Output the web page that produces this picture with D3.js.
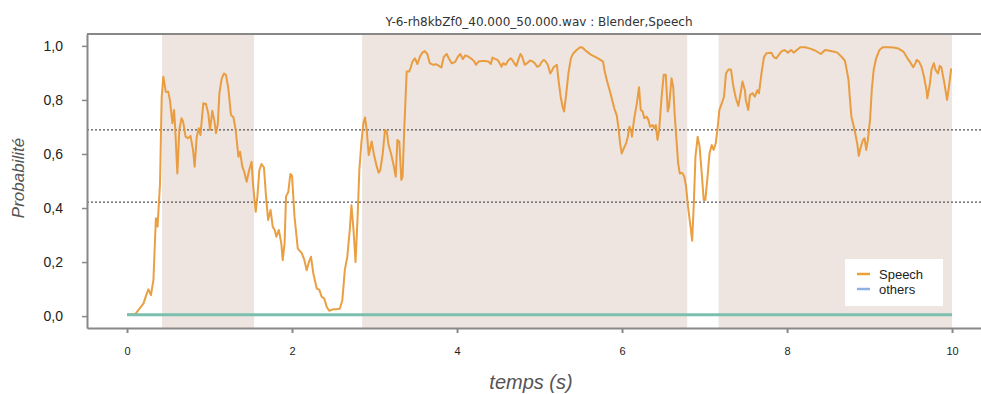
<!DOCTYPE html>
<html lang="en">
<head>
<meta charset="utf-8">
<title>Blender,Speech</title>
<script src="https://d3js.org/d3.v7.min.js"></script>
<style>
  body { margin: 0; background: #fff; }
  .axis path, .axis line { stroke: #888; }
  .axis text { fill: #222; font-family: "Liberation Sans", Arial, sans-serif; }
</style>
</head>
<body>
<svg width="981" height="394"></svg>
<script>

// ground-truth segments (seconds)
var segStart = [0.424, 2.85, 7.17];
var segEnd   = [1.54, 6.79, 10.0];

// thresholds
var thresholds = [0.689, 0.422];

// Speech probability
var speechTimes = [0.00,0.10,0.20,0.24,0.26,0.29,0.32,0.35,0.37,0.40,0.42,0.44,0.47,0.50,0.52,0.55,0.57,0.585,0.61,0.634,
  0.66,0.68,0.71,0.74,0.77,0.80,0.82,0.845,0.87,0.89,0.925,0.957,0.985,1.006,1.034,1.06,1.079,1.10,1.12,1.148,
  1.176,1.20,1.228,1.26,1.29,1.317,1.35,1.37,1.398,1.42,1.45,1.48,1.51,1.53,1.56,1.58,1.604,1.63,1.66,1.685,
  1.71,1.74,1.766,1.79,1.81,1.84,1.87,1.887,1.91,1.927,1.955,1.98,2.00,2.03,2.07,2.12,2.15,2.178,2.20,2.23,
  2.258,2.30,2.33,2.36,2.39,2.42,2.45,2.50,2.54,2.58,2.61,2.64,2.67,2.70,2.72,2.745,2.77,2.795,2.816,2.84,
  2.865,2.885,2.905,2.93,2.966,2.99,3.027,3.05,3.07,3.10,3.127,3.15,3.17,3.20,3.23,3.257,3.277,3.30,3.325,3.34,
  3.36,3.39,3.42,3.44,3.46,3.49,3.52,3.55,3.58,3.61,3.64,3.67,3.71,3.75,3.78,3.81,3.84,3.875,3.90,3.935,
  3.976,4.01,4.04,4.07,4.10,4.14,4.18,4.21,4.23,4.26,4.30,4.34,4.38,4.41,4.43,4.46,4.49,4.51,4.54,4.56,
  4.59,4.62,4.65,4.67,4.70,4.72,4.745,4.77,4.79,4.82,4.85,4.885,4.92,4.95,4.97,5.00,5.02,5.05,5.07,5.10,
  5.13,5.15,5.17,5.21,5.23,5.256,5.28,5.297,5.32,5.35,5.38,5.41,5.45,5.49,5.52,5.55,5.59,5.62,5.67,5.72,
  5.77,5.79,5.82,5.855,5.885,5.906,5.935,5.96,5.976,5.996,6.02,6.05,6.07,6.09,6.11,6.12,6.145,6.18,6.206,6.227,
  6.25,6.27,6.30,6.32,6.34,6.37,6.39,6.41,6.43,6.45,6.48,6.505,6.53,6.554,6.57,6.60,6.62,6.64,6.66,6.68,
  6.70,6.73,6.755,6.776,6.80,6.83,6.85,6.87,6.89,6.917,6.94,6.966,6.99,7.01,7.04,7.06,7.087,7.11,7.136,7.16,
  7.18,7.21,7.236,7.26,7.29,7.32,7.35,7.38,7.41,7.44,7.46,7.49,7.50,7.53,7.55,7.58,7.61,7.64,7.66,7.69,
  7.72,7.75,7.81,7.84,7.87,7.90,7.93,7.97,8.01,8.05,8.08,8.12,8.16,8.22,8.28,8.34,8.41,8.46,8.50,8.56,
  8.61,8.66,8.70,8.72,8.745,8.76,8.78,8.80,8.82,8.85,8.87,8.89,8.92,8.94,8.96,8.98,9.006,9.027,9.05,9.08,
  9.12,9.16,9.23,9.29,9.35,9.41,9.46,9.50,9.53,9.56,9.57,9.60,9.63,9.66,9.69,9.70,9.73,9.75,9.78,9.80,
  9.83,9.85,9.87,9.90,9.92,9.94,9.96,9.99];
var speechValues = [0.007,0.007,0.047,0.084,0.099,0.078,0.133,0.362,0.331,0.49,0.81,0.886,0.83,0.83,0.80,0.714,0.763,0.689,0.528,0.689,
  0.732,0.72,0.664,0.658,0.667,0.615,0.553,0.664,0.695,0.67,0.788,0.785,0.75,0.689,0.76,0.72,0.677,0.71,0.825,0.88,
  0.898,0.892,0.843,0.744,0.736,0.689,0.59,0.608,0.553,0.535,0.497,0.54,0.571,0.479,0.386,0.442,0.54,0.563,0.55,0.442,
  0.356,0.393,0.331,0.319,0.294,0.319,0.269,0.207,0.27,0.442,0.46,0.526,0.52,0.368,0.25,0.232,0.207,0.17,0.195,0.22,
  0.158,0.102,0.098,0.071,0.066,0.035,0.02,0.025,0.025,0.028,0.059,0.17,0.22,0.319,0.41,0.32,0.2,0.368,0.54,0.64,
  0.714,0.735,0.689,0.596,0.646,0.602,0.553,0.531,0.54,0.602,0.689,0.68,0.633,0.602,0.56,0.516,0.652,0.646,0.504,0.516,
  0.689,0.905,0.905,0.921,0.942,0.954,0.933,0.96,0.975,0.981,0.97,0.936,0.93,0.932,0.926,0.92,0.96,0.97,0.954,0.936,
  0.94,0.96,0.97,0.951,0.965,0.96,0.951,0.942,0.93,0.942,0.944,0.944,0.942,0.933,0.957,0.952,0.948,0.94,0.923,0.936,
  0.93,0.946,0.954,0.948,0.933,0.926,0.951,0.97,0.96,0.93,0.936,0.946,0.942,0.933,0.923,0.926,0.938,0.948,0.944,0.93,
  0.898,0.908,0.921,0.93,0.874,0.812,0.775,0.757,0.812,0.898,0.954,0.973,0.985,0.995,0.994,0.985,0.975,0.968,0.96,0.952,
  0.942,0.905,0.868,0.83,0.794,0.769,0.744,0.689,0.64,0.602,0.62,0.64,0.664,0.701,0.686,0.664,0.726,0.788,0.847,0.763,
  0.757,0.732,0.738,0.726,0.701,0.707,0.695,0.707,0.652,0.689,0.812,0.893,0.893,0.757,0.775,0.88,0.849,0.738,0.652,0.565,
  0.528,0.53,0.516,0.479,0.405,0.331,0.279,0.417,0.59,0.664,0.627,0.528,0.43,0.43,0.528,0.602,0.633,0.615,0.64,0.701,
  0.763,0.788,0.812,0.898,0.913,0.913,0.849,0.806,0.778,0.83,0.868,0.835,0.80,0.763,0.818,0.825,0.812,0.836,0.825,0.898,
  0.958,0.973,0.975,0.958,0.954,0.967,0.979,0.985,0.975,0.985,0.975,0.985,0.995,0.995,0.99,0.983,0.97,0.985,0.983,0.979,
  0.975,0.96,0.946,0.917,0.874,0.812,0.738,0.714,0.686,0.64,0.593,0.621,0.652,0.658,0.615,0.652,0.726,0.837,0.911,0.954,
  0.985,0.995,0.995,0.994,0.99,0.979,0.954,0.936,0.921,0.938,0.948,0.942,0.923,0.886,0.837,0.806,0.857,0.911,0.936,0.911,
  0.898,0.926,0.921,0.874,0.837,0.80,0.843,0.917];

// others probability
var othersTimes = [0, 10];
var othersValues = [0.005, 0.005];

var xTicks = [0, 2, 4, 6, 8, 10];
var yTicks = [0, 0.2, 0.4, 0.6, 0.8, 1.0];
var legendLabels = ["Speech", "others"];
var legendColors = ["#eda037", "#8fb1e2"];

var svg = d3.select("svg");

var x = d3.scaleLinear().domain([-0.485, 10.5]).range([87, 993.3]),
    y = d3.scaleLinear().domain([-0.044, 1.044]).range([328, 34]);

var plotTop = y.range()[1], plotBottom = y.range()[0], plotLeft = x.range()[0], plotRight = 981;

// shaded ground truth
svg.selectAll(".seg")
  .data(segStart)
  .enter().append("rect")
    .attr("class", "seg")
    .attr("x", function(d) { return x(d); })
    .attr("y", plotTop)
    .attr("width", function(d, i) { return x(segEnd[i]) - x(d); })
    .attr("height", plotBottom - plotTop)
    .attr("fill", "#eee5e1");

// threshold lines
svg.selectAll(".thr")
  .data(thresholds)
  .enter().append("line")
    .attr("class", "thr")
    .attr("x1", plotLeft).attr("x2", plotRight)
    .attr("y1", function(d) { return y(d); })
    .attr("y2", function(d) { return y(d); })
    .attr("stroke", "#555")
    .attr("stroke-width", 1.2)
    .attr("stroke-dasharray", "2,2");

var line = d3.line()
    .x(function(d) { return x(d[0]); })
    .y(function(d) { return y(d[1]); });

svg.append("path")
    .datum(d3.zip(speechTimes, speechValues))
    .attr("fill", "none")
    .attr("stroke", "#e8952f")
    .attr("stroke-opacity", 0.9)
    .attr("stroke-width", 2)
    .attr("stroke-linejoin", "round")
    .attr("d", line);

svg.append("path")
    .datum(d3.zip(othersTimes, othersValues))
    .attr("fill", "none")
    .attr("stroke", "#7dbfae")
    .attr("stroke-width", 3)
    .attr("d", line);

// axes
var xAxis = svg.append("g")
    .attr("class", "axis")
    .attr("transform", "translate(0," + plotBottom + ")")
    .call(d3.axisBottom(x).tickValues(xTicks).tickSize(5).tickPadding(14).tickSizeOuter(0));
xAxis.select(".domain").attr("stroke-width", 2);
xAxis.selectAll(".tick line").attr("stroke-width", 2);
xAxis.selectAll("text").attr("font-size", 11);

var yAxis = svg.append("g")
    .attr("class", "axis")
    .attr("transform", "translate(" + plotLeft + ",0)")
    .call(d3.axisLeft(y).tickValues(yTicks).tickSize(5).tickPadding(19).tickSizeOuter(0)
      .tickFormat(function(d) { return d3.format(".1f")(d).replace(".", ","); }));
yAxis.select(".domain").attr("stroke-width", 2);
yAxis.selectAll(".tick line").attr("stroke-width", 1.5);
yAxis.selectAll("text").attr("font-size", 14);

// top frame
svg.append("line")
    .attr("x1", plotLeft).attr("x2", plotRight)
    .attr("y1", plotTop).attr("y2", plotTop)
    .attr("stroke", "#888").attr("stroke-width", 2);

// title and labels
svg.append("text")
    .attr("x", 539).attr("y", 26)
    .attr("text-anchor", "middle")
    .attr("font-family", "DejaVu Sans, sans-serif")
    .attr("font-size", 12)
    .attr("fill", "#333")
    .text("Y-6-rh8kbZf0_40.000_50.000.wav : Blender,Speech");

svg.append("text")
    .attr("transform", "translate(24,178) rotate(-90)")
    .attr("text-anchor", "middle")
    .attr("font-family", "Liberation Sans, Arial, sans-serif")
    .attr("font-style", "italic")
    .attr("font-size", 17)
    .attr("fill", "#555")
    .text("Probabilité");

svg.append("text")
    .attr("x", 531).attr("y", 389)
    .attr("text-anchor", "middle")
    .attr("font-family", "Liberation Sans, Arial, sans-serif")
    .attr("font-style", "italic")
    .attr("font-size", 20)
    .attr("fill", "#555")
    .text("temps (s)");

// legend
var legend = svg.append("g").attr("transform", "translate(845,259)");
legend.append("rect")
    .attr("width", 98).attr("height", 47)
    .attr("fill", "#fff");
var item = legend.selectAll(".item")
  .data(legendLabels)
  .enter().append("g")
    .attr("class", "item")
    .attr("transform", function(d, i) { return "translate(0," + (15 + i * 15) + ")"; });
item.append("line")
    .attr("x1", 12).attr("x2", 25)
    .attr("stroke", function(d, i) { return legendColors[i]; })
    .attr("stroke-width", 2.5);
item.append("text")
    .attr("x", 34).attr("dy", "0.35em")
    .attr("font-family", "Liberation Sans, Arial, sans-serif")
    .attr("font-size", 13)
    .attr("fill", "#222")
    .text(function(d) { return d; });

</script>
</body>
</html>
